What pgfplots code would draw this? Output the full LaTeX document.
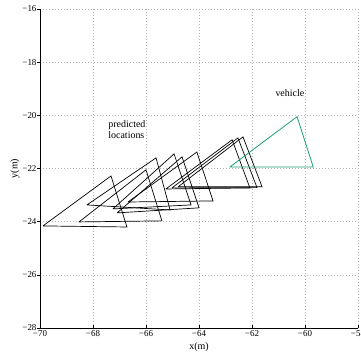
\documentclass[border=0pt]{standalone}
\usepackage{pgfplots}
\pgfplotsset{compat=1.18}
\usepackage{fontspec}
\setmainfont{Liberation Serif}
\definecolor{veh}{RGB}{30,160,110}
\begin{document}
\begin{tikzpicture}
\begin{axis}[
  at={(0,0)}, anchor=south west,
  scale only axis, width=318bp, height=319bp,
  xmin=-70, xmax=-58, ymin=-28, ymax=-16,
  xtick={-70,-68,...,-58}, ytick={-28,-26,...,-16},
  xticklabels={−70,−68,−66,−64,−62,−60,−58},
  yticklabels={−28,−26,−24,−22,−20,−18,−16},
  axis x line=bottom, axis y line=left,
  axis line style={-, line width=0.8bp},
  tick align=inside, major tick length=3bp,
  tick style={black, line width=0.6bp},
  y tick style={xshift=-3bp},
  grid=major,
  grid style={gray!60, line width=0.5bp, dash pattern=on 0.6bp off 2.4bp},
  ticklabel style={font=\fontsize{9}{10}\selectfont},
  xticklabel style={yshift=1bp},
  xlabel={x(m)}, ylabel={y(m)},
  label style={font=\fontsize{10}{11}\selectfont},
  xlabel style={yshift=1bp},
  ylabel style={yshift=-4bp},
  clip=false,
]
\addplot[black, line width=0.7bp] coordinates {(-69.89,-24.16) (-67.32,-22.28) (-66.72,-24.20) (-69.89,-24.16)};
\addplot[black, line width=0.7bp] coordinates {(-68.53,-24.01) (-66.00,-22.05) (-65.40,-23.97) (-68.53,-24.01)};
\addplot[black, line width=0.7bp] coordinates {(-68.23,-23.37) (-65.62,-21.60) (-65.09,-23.56) (-68.23,-23.37)};
\addplot[black, line width=0.7bp] coordinates {(-67.25,-23.52) (-64.94,-21.45) (-64.30,-23.37) (-67.25,-23.52)};
\addplot[black, line width=0.7bp] coordinates {(-67.09,-23.67) (-64.64,-21.56) (-64.00,-23.48) (-67.09,-23.67)};
\addplot[black, line width=0.7bp] coordinates {(-66.68,-23.26) (-64.08,-21.38) (-63.47,-23.22) (-66.68,-23.26)};
\addplot[black, line width=0.7bp] coordinates {(-65.25,-22.77) (-62.75,-20.92) (-62.08,-22.73) (-65.25,-22.77)};
\addplot[black, line width=0.7bp] coordinates {(-65.02,-22.73) (-62.53,-20.85) (-61.81,-22.72) (-65.02,-22.73)};
\addplot[black, line width=0.7bp] coordinates {(-64.79,-22.69) (-62.34,-20.81) (-61.62,-22.69) (-64.79,-22.69)};
\addplot[veh, line width=0.8bp] coordinates {(-62.83,-21.94) (-60.30,-20.05) (-59.69,-21.94) (-62.83,-21.94)};
\node[font=\fontsize{10}{11}\selectfont] at (axis cs:-60.57,-19.15) {vehicle};
\node[font=\fontsize{10}{11}\selectfont, align=left] at (axis cs:-66.72,-20.55) {predicted\\locations};
\end{axis}
\pgfresetboundingbox
\path (-40bp,-27bp) rectangle (321bp,328bp);
\end{tikzpicture}
\end{document}
